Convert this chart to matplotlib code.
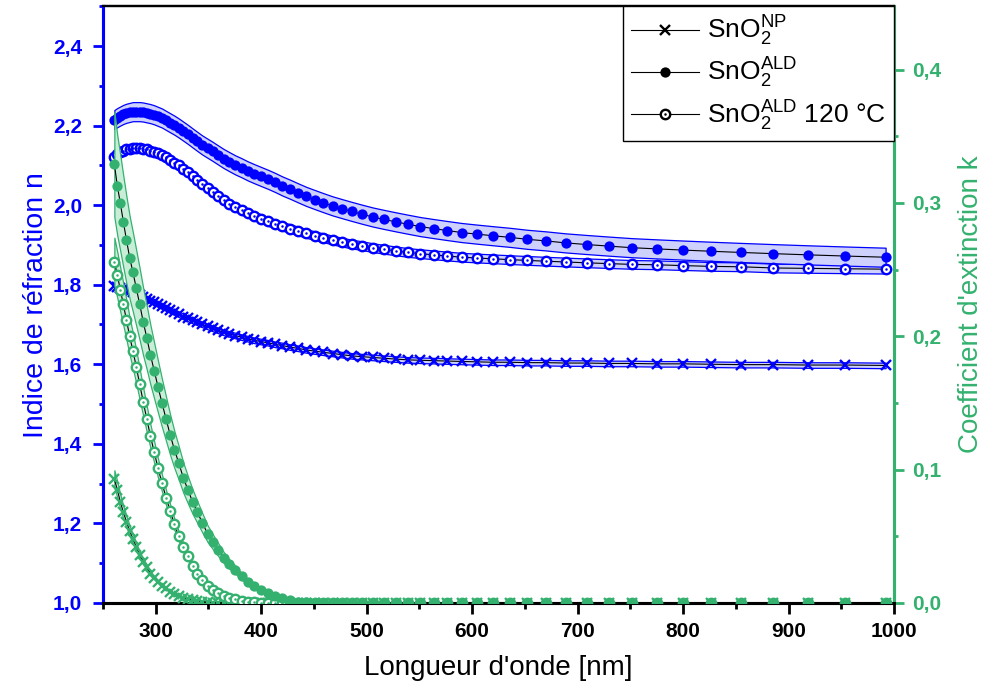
import matplotlib
matplotlib.use("Agg")
import matplotlib.pyplot as plt
from matplotlib.lines import Line2D
from matplotlib.ticker import MultipleLocator, FuncFormatter
import numpy as np

plt.rcParams["font.family"] = ["Liberation Sans", "DejaVu Sans"]
plt.rcParams["mathtext.fontset"] = "custom"
plt.rcParams["mathtext.rm"] = "Liberation Sans"
plt.rcParams["mathtext.it"] = "Liberation Sans:italic"
plt.rcParams["mathtext.bf"] = "Liberation Sans:bold"

# wavelength grid (nm), same for every sample
wl = [261.0, 263.8, 266.6, 269.5, 272.5, 275.5, 278.6, 281.8, 285.0, 288.3,
      291.7, 295.2, 298.8, 302.4, 306.1, 310.0, 313.9, 317.9, 322.0, 326.3,
      330.6, 335.1, 339.7, 344.4, 349.3, 354.2, 359.4, 364.7, 370.1, 375.7,
      381.5, 387.5, 393.6, 400.0, 406.5, 413.3, 420.3, 427.5, 435.0, 442.8,
      450.9, 459.2, 467.9, 476.9, 486.2, 495.9, 506.1, 516.6, 527.6, 539.1,
      551.0, 563.6, 576.7, 590.4, 604.8, 619.9, 635.8, 652.5, 670.2, 688.8,
      708.5, 729.3, 751.4, 774.9, 799.9, 826.6, 855.1, 885.6, 918.4, 953.7,
      991.9]

# refractive index n
n_np = [1.796, 1.794, 1.792, 1.790, 1.787, 1.784, 1.781, 1.777, 1.773, 1.769,
        1.765, 1.760, 1.756, 1.751, 1.746, 1.741, 1.736, 1.731, 1.726, 1.720,
        1.715, 1.710, 1.705, 1.700, 1.695, 1.690, 1.685, 1.680, 1.676, 1.672,
        1.668, 1.664, 1.660, 1.657, 1.654, 1.650, 1.647, 1.643, 1.640, 1.636,
        1.633, 1.630, 1.627, 1.624, 1.621, 1.619, 1.617, 1.615, 1.613, 1.611,
        1.610, 1.609, 1.608, 1.607, 1.606, 1.605, 1.605, 1.604, 1.604, 1.603,
        1.603, 1.602, 1.602, 1.601, 1.601, 1.600, 1.599, 1.599, 1.598, 1.598,
        1.597]
n_ald = [2.215, 2.220, 2.224, 2.228, 2.231, 2.233, 2.235, 2.235, 2.235, 2.234,
         2.232, 2.230, 2.227, 2.223, 2.219, 2.213, 2.207, 2.201, 2.194, 2.186,
         2.178, 2.169, 2.160, 2.151, 2.143, 2.135, 2.126, 2.117, 2.109, 2.101,
         2.094, 2.086, 2.079, 2.072, 2.065, 2.057, 2.048, 2.040, 2.031, 2.022,
         2.014, 2.006, 1.998, 1.991, 1.984, 1.977, 1.970, 1.964, 1.958, 1.952,
         1.946, 1.941, 1.936, 1.931, 1.927, 1.923, 1.919, 1.914, 1.910, 1.905,
         1.901, 1.897, 1.893, 1.890, 1.887, 1.884, 1.881, 1.878, 1.875, 1.872,
         1.869]
n_ald120 = [2.120, 2.128, 2.133, 2.137, 2.140, 2.142, 2.143, 2.143, 2.143, 2.142,
            2.140, 2.137, 2.134, 2.130, 2.125, 2.120, 2.114, 2.107, 2.100, 2.092,
            2.083, 2.074, 2.064, 2.054, 2.043, 2.033, 2.023, 2.013, 2.004, 1.995,
            1.987, 1.980, 1.973, 1.966, 1.959, 1.953, 1.947, 1.941, 1.935, 1.929,
            1.923, 1.918, 1.912, 1.907, 1.902, 1.898, 1.893, 1.889, 1.885, 1.881,
            1.878, 1.875, 1.872, 1.869, 1.867, 1.865, 1.863, 1.861, 1.859, 1.857,
            1.855, 1.853, 1.851, 1.850, 1.848, 1.846, 1.845, 1.842, 1.841, 1.840,
            1.839]

# extinction coefficient k
k_np = [0.093, 0.085, 0.076, 0.068, 0.061, 0.054, 0.048, 0.042, 0.036, 0.031,
        0.027, 0.022, 0.019, 0.016, 0.013, 0.011, 0.0085, 0.007, 0.0055, 0.004,
        0.003, 0.002, 0.0015, 0.001, 0.0006, 0.0003, 0, 0, 0, 0,
        0, 0, 0, 0, 0, 0, 0, 0, 0, 0,
        0, 0, 0, 0, 0, 0, 0, 0, 0, 0,
        0, 0, 0, 0, 0, 0, 0, 0, 0, 0,
        0, 0, 0, 0, 0, 0, 0, 0, 0, 0,
        0]
k_ald = [0.329, 0.313, 0.300, 0.286, 0.272, 0.259, 0.248, 0.236, 0.224, 0.211,
         0.199, 0.186, 0.174, 0.162, 0.150, 0.138, 0.126, 0.115, 0.105, 0.094,
         0.085, 0.076, 0.068, 0.060, 0.052, 0.046, 0.040, 0.034, 0.029, 0.025,
         0.020, 0.016, 0.013, 0.010, 0.0075, 0.0055, 0.0035, 0.002, 0.001, 0.0005,
         0, 0, 0, 0, 0, 0, 0, 0, 0, 0,
         0, 0, 0, 0, 0, 0, 0, 0, 0, 0,
         0, 0, 0, 0, 0, 0, 0, 0, 0, 0,
         0]
k_ald120 = [0.256, 0.246, 0.235, 0.224, 0.212, 0.200, 0.189, 0.177, 0.164, 0.151,
            0.138, 0.125, 0.113, 0.101, 0.090, 0.079, 0.069, 0.059, 0.050, 0.042,
            0.035, 0.028, 0.022, 0.017, 0.013, 0.010, 0.0075, 0.0055, 0.004, 0.0028,
            0.0018, 0.001, 0.0005, 0.0002, 0, 0, 0, 0, 0, 0,
            0, 0, 0, 0, 0, 0, 0, 0, 0, 0,
            0, 0, 0, 0, 0, 0, 0, 0, 0, 0,
            0, 0, 0, 0, 0, 0, 0, 0, 0, 0,
            0]

# uncertainty bands
n_err = {"np": 0.007, "ald": 0.024, "ald120": 0.011}
k_rel = {"np": 0.07, "ald": 0.12, "ald120": 0.07}

BLUE = "#0000ff"
BLUE_FILL = "#cdd1fb"
GREEN = "#34b16f"
GREEN_FILL = "#c9eed8"

wl = np.array(wl)

fig = plt.figure(figsize=(9.88, 6.93), dpi=100)
ax = fig.add_axes([0.104, 0.130, 0.801, 0.861])
ax2 = ax.twinx()


def draw(a, y, err, col, fill, style, rel=False):
    y = np.array(y)
    d = y * err if rel else err
    a.fill_between(wl, y - d, y + d, facecolor=fill, edgecolor=col, lw=0.9, zorder=1)
    a.plot(wl, y, color="black", lw=0.8, zorder=2)
    if style == "x":
        a.plot(wl, y, ls="none", marker="x", ms=7.5, mew=1.7, color=col, zorder=3)
    elif style == "o":
        a.plot(wl, y, ls="none", marker="o", ms=7.4, mew=0, color=col, zorder=3)
    else:
        a.plot(wl, y, ls="none", marker="o", ms=6.8, mew=1.7, mfc="white", mec=col, zorder=3)
        a.plot(wl, y, ls="none", marker="o", ms=1.8, mew=0, color=col, zorder=4)


draw(ax, n_np, n_err["np"], BLUE, BLUE_FILL, "x")
draw(ax, n_ald120, n_err["ald120"], BLUE, BLUE_FILL, "oo")
draw(ax, n_ald, n_err["ald"], BLUE, BLUE_FILL, "o")

draw(ax2, k_np, k_rel["np"], GREEN, GREEN_FILL, "x", rel=True)
draw(ax2, k_ald120, k_rel["ald120"], GREEN, GREEN_FILL, "oo", rel=True)
draw(ax2, k_ald, k_rel["ald"], GREEN, GREEN_FILL, "o", rel=True)

ax.set_xlim(250, 1000)
ax.set_ylim(1.0, 2.5)
ax2.set_ylim(0.0, 0.4475)

comma = FuncFormatter(lambda v, p: f"{v:.1f}".replace(".", ","))
ax.xaxis.set_major_locator(MultipleLocator(100))
ax.xaxis.set_minor_locator(MultipleLocator(50))
ax.yaxis.set_major_locator(MultipleLocator(0.2))
ax.yaxis.set_minor_locator(MultipleLocator(0.1))
ax.yaxis.set_major_formatter(comma)
ax2.yaxis.set_major_locator(MultipleLocator(0.1))
ax2.yaxis.set_minor_locator(MultipleLocator(0.05))
ax2.yaxis.set_major_formatter(comma)

ax.tick_params(axis="x", which="both", direction="out", width=2, colors="black",
               labelsize=15, top=False, pad=6)
ax.tick_params(axis="x", which="major", length=8)
ax.tick_params(axis="x", which="minor", length=4)
ax.tick_params(axis="y", which="both", direction="out", width=2, colors=BLUE,
               labelsize=15, right=False, pad=8)
ax.tick_params(axis="y", which="major", length=7)
ax.tick_params(axis="y", which="minor", length=3)
ax2.tick_params(axis="y", which="both", direction="out", width=2, colors=GREEN,
                labelsize=15, left=False, pad=6)
ax2.tick_params(axis="y", which="major", length=7)
ax2.tick_params(axis="y", which="minor", length=3)
for lab in ax.get_xticklabels() + ax.get_yticklabels() + ax2.get_yticklabels():
    lab.set_fontweight("bold")

for a in (ax, ax2):
    a.spines["left"].set_color(BLUE)
    a.spines["right"].set_color(GREEN)
    a.spines["bottom"].set_color("black")
    a.spines["top"].set_color("black")
    for s in ("left", "right", "bottom"):
        a.spines[s].set_linewidth(2.2)
    a.spines["top"].set_linewidth(1.6)

ax.set_xlabel("Longueur d'onde [nm]", fontsize=20, labelpad=10)
ax.set_ylabel("Indice de réfraction n", fontsize=20.5, color=BLUE, labelpad=3)
ax2.set_ylabel("Coefficient d'extinction k", fontsize=20, color=GREEN, labelpad=12)

h_np = Line2D([], [], color="black", lw=0.8, marker="x", ms=7.5, mew=1.7)
h_ald = Line2D([], [], color="black", lw=0.8, marker="o", ms=7.4, mew=0)
h_ald120 = (Line2D([], [], color="black", lw=0.8, marker="o", ms=6.8, mew=1.7,
                   mfc="white", mec="black"),
            Line2D([], [], ls="none", marker="o", ms=1.8, mew=0, color="black"))
leg = ax2.legend([h_np, h_ald, h_ald120],
                 [r"SnO$_2^{\mathrm{NP}}$", r"SnO$_2^{\mathrm{ALD}}$",
                  r"SnO$_2^{\mathrm{ALD}}$ 120 °C"],
                 loc="upper right", borderaxespad=0, fontsize=19, frameon=True,
                 fancybox=False, edgecolor="black", framealpha=1,
                 handlelength=2.6, labelspacing=0.3, handletextpad=0.3,
                 borderpad=0.3)
leg.get_frame().set_linewidth(1.0)
leg.set_zorder(10)

fig.savefig("out.png", dpi=100)
